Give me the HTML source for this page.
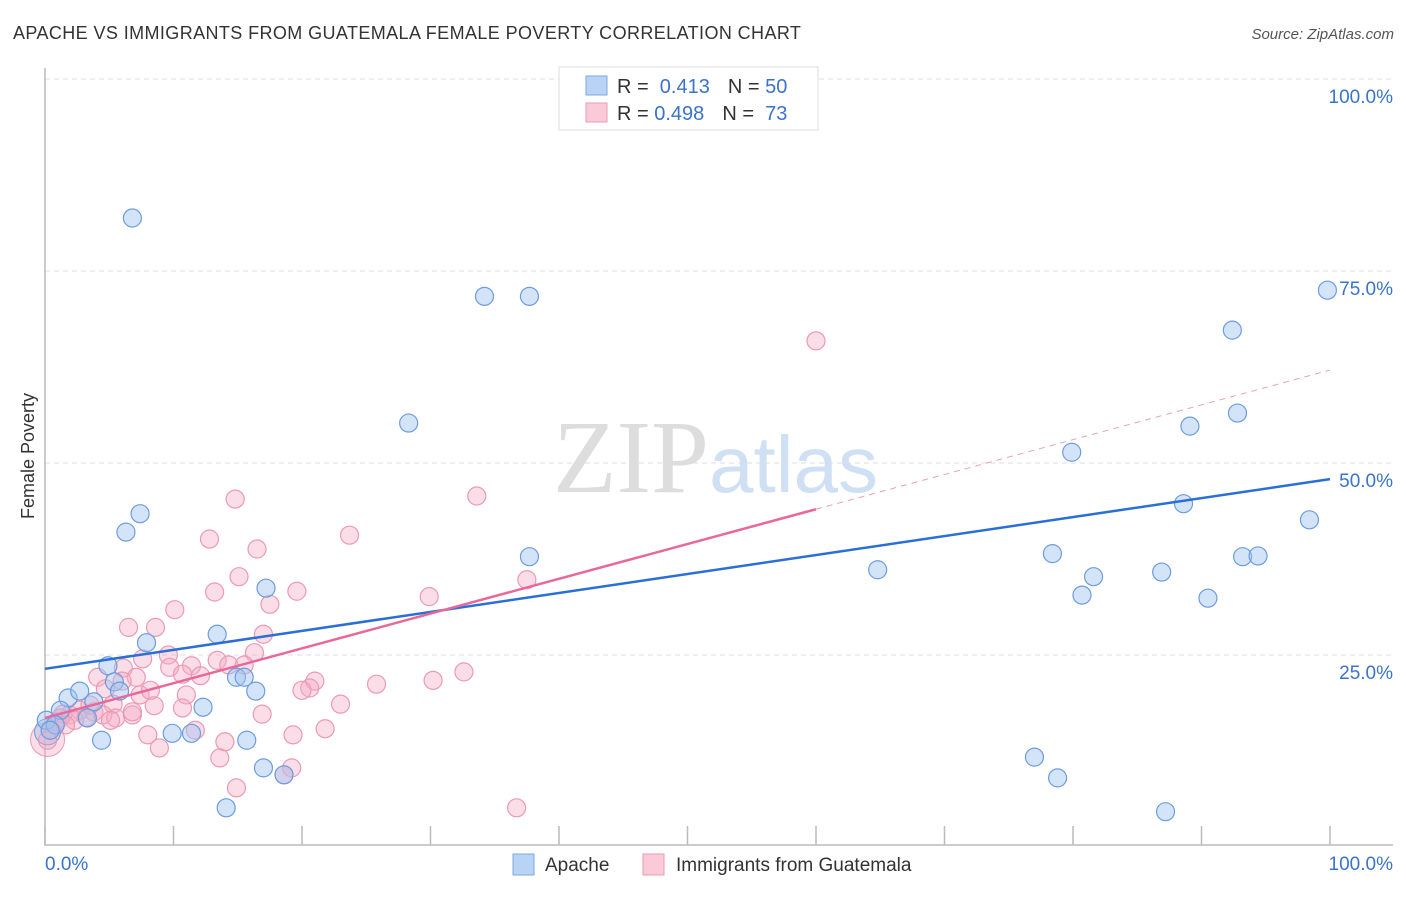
<!DOCTYPE html>
<html><head><meta charset="utf-8"><style>
body{margin:0;background:#fff;font-family:"Liberation Sans",sans-serif}
</style></head><body>
<svg id="chart" width="1406" height="892" xmlns="http://www.w3.org/2000/svg" font-family="Liberation Sans, sans-serif">
<text x="13" y="39" font-size="18" letter-spacing="0.4" fill="#333">APACHE VS IMMIGRANTS FROM GUATEMALA FEMALE POVERTY CORRELATION CHART</text>
<text x="1394" y="39" font-size="15" font-style="italic" fill="#555" text-anchor="end">Source: ZipAtlas.com</text>
<text x="553" y="492" font-size="104" font-family="Liberation Serif, serif" fill="#ddd">ZIP<tspan fill="#cfe0f5" font-family="Liberation Sans, sans-serif" font-size="80">atlas</tspan></text>
<g id="grid"></g><g id="axes"></g><g id="pts"></g><g id="lines"></g>
<text transform="translate(34,456) rotate(-90)" font-size="18" fill="#333" text-anchor="middle">Female Poverty</text>
<g>
<rect x="559" y="67" width="259" height="63" fill="#fff" stroke="#ddd"/>
<rect x="586" y="76" width="21" height="19" fill="#b9d3f5" stroke="#7aa7e3"/>
<rect x="586" y="103" width="21" height="19" fill="#fbcad8" stroke="#eb9ab4"/>
<text x="617" y="93" font-size="20" fill="#333">R = <tspan fill="#3a73c9">&#160;0.413</tspan><tspan dx="18" fill="#333">N = </tspan><tspan fill="#3a73c9">50</tspan></text>
<text x="617" y="120" font-size="20" fill="#333">R = <tspan fill="#3a73c9">0.498</tspan><tspan dx="18" fill="#333">N = </tspan><tspan fill="#3a73c9">&#160;73</tspan></text>
</g>
<g>
<rect x="513" y="854" width="21" height="21" fill="#b9d3f5" stroke="#7aa7e3"/>
<text x="545" y="871" font-size="19" fill="#333">Apache</text>
<rect x="643" y="854" width="21" height="21" fill="#fbcad8" stroke="#eb9ab4"/>
<text x="676" y="871" font-size="19" fill="#333">Immigrants from Guatemala</text>
</g>
</svg>
<script>
const yTicks=[25,50,75,100];
const yTickLabels=["25.0%","50.0%","75.0%","100.0%"];
const xTicks=[0,10,20,30,40,50,60,70,80,90,100];
const blueX=[6.8,34.2,37.7,28.3,99.8,92.4,92.8,89.1,79.9,88.6,98.4,7.4,6.3,37.7,78.4,93.2,94.4,64.8,86.9,81.6,80.7,90.5,17.2,7.9,13.4,4.9,14.9,15.5,5.4,16.4,5.8,1.8,2.7,3.8,1.2,3.3,0.1,0.8,12.3,9.9,11.4,4.4,15.7,17.0,18.6,14.1,77.0,78.8,87.2,0.4];
const blueY=[81.9,71.7,71.7,55.2,72.5,67.3,56.5,54.8,51.4,44.7,42.6,43.4,41.0,37.8,38.2,37.8,37.9,36.1,35.8,35.2,32.8,32.4,33.7,26.6,27.7,23.6,22.1,22.1,21.5,20.3,20.3,19.4,20.3,18.9,17.8,16.8,16.5,15.9,18.2,14.8,14.8,13.9,13.9,10.3,9.4,5.1,11.7,9.0,4.6,15.2];
const pinkX=[60.0,33.6,14.8,23.7,12.8,16.5,37.5,15.1,13.2,19.6,29.9,17.5,10.1,6.5,8.6,17.0,9.6,7.6,16.3,13.4,14.3,11.4,15.5,9.7,6.1,4.1,7.1,10.7,12.1,6.0,32.6,30.2,25.8,21.0,20.6,20.0,4.7,7.4,11.0,5.3,8.5,23.0,10.7,2.7,3.8,1.9,4.5,5.5,6.8,3.2,16.9,1.4,2.3,11.7,21.8,8.0,19.3,14.0,8.9,13.6,19.2,14.9,36.7,0.4,0.2,0.9,6.8,18.6,1.2,3.5,5.1,1.6,8.2];
const pinkY=[65.9,45.7,45.3,40.6,40.1,38.8,34.8,35.2,33.2,33.3,32.6,31.6,30.9,28.6,28.6,27.7,25.0,24.5,25.3,24.3,23.7,23.6,23.7,23.4,23.3,22.1,22.1,22.5,22.3,21.6,22.8,21.7,21.2,21.6,20.7,20.4,20.6,19.8,19.8,18.6,18.4,18.6,18.1,17.8,17.6,17.2,17.2,16.8,17.2,16.9,17.3,17.3,16.5,15.2,15.4,14.6,14.6,13.7,12.9,11.6,10.3,7.7,5.1,15.2,13.9,16.3,17.6,9.4,16.8,18.5,16.5,15.9,20.4];
const blueTrend=[23.2,47.9];
const pinkTrend=[16.8,62.1];
const pinkSolidEnd=60;
const NS='http://www.w3.org/2000/svg';
const X=v=>45+v*12.85, Y=v=>847-v*7.68;
function mk(tag,attrs,parent){const e=document.createElementNS(NS,tag);for(const k in attrs)e.setAttribute(k,attrs[k]);document.getElementById(parent).appendChild(e);return e;}
yTicks.forEach((t,i)=>{
 const g=mk('line',{x1:45,x2:1393,y1:Y(t),y2:Y(t),stroke:'#ddd','stroke-dasharray':'5,4'},'grid');
 
 
 const l=mk('text',{x:1393,y:Y(t)+24,'font-size':19,fill:'#3a73c9','text-anchor':'end'},'grid');
 l.textContent=yTickLabels[i];
 
 
});
const ax=mk('path',{d:'M45 68 V845 H1393',fill:'none',stroke:'#bbb','stroke-width':1.5},'axes');


xTicks.forEach(t=>{
 const k=mk('line',{x1:X(t),x2:X(t),y1:826,y2:845,stroke:'#bbb','stroke-width':1.5},'axes');
 
 
});
const xl0=mk('text',{x:45,y:870,'font-size':19,fill:'#3a73c9'},'axes');xl0.textContent='0.0%';


const xl1=mk('text',{x:1393,y:870,'font-size':19,fill:'#3a73c9','text-anchor':'end'},'axes');xl1.textContent='100.0%';


const bigP=mk('circle',{cx:X(0.2),cy:Y(14),r:17,fill:'rgba(245,170,195,0.4)',stroke:'#eb9ab4'},'pts');


const bigB=mk('circle',{cx:X(0.2),cy:Y(15),r:13,fill:'rgba(160,196,240,0.45)',stroke:'#6c9ce0'},'pts');


pinkX.forEach((x,i)=>{
 const c=mk('circle',{cx:X(x),cy:Y(pinkY[i]),r:9,fill:'rgba(245,170,195,0.4)',stroke:'#eb9ab4','stroke-width':1.2},'pts');
 
 
});
blueX.forEach((x,i)=>{
 const c=mk('circle',{cx:X(x),cy:Y(blueY[i]),r:9,fill:'rgba(160,196,240,0.45)',stroke:'#6c9ce0','stroke-width':1.2},'pts');
 
 
});
const bl=mk('line',{x1:X(0),y1:Y(blueTrend[0]),x2:X(100),y2:Y(blueTrend[1]),stroke:'#2a6fd6','stroke-width':2.5},'lines');


const pm=pinkTrend[0]+(pinkTrend[1]-pinkTrend[0])*pinkSolidEnd/100;
const pl=mk('line',{x1:X(0),y1:Y(pinkTrend[0]),x2:X(pinkSolidEnd),y2:Y(pm),stroke:'#e8689a','stroke-width':2.5},'lines');


const pd=mk('line',{x1:X(pinkSolidEnd),y1:Y(pm),x2:X(100),y2:Y(pinkTrend[1]),stroke:'#e8a0b8','stroke-width':1,'stroke-dasharray':'6,5'},'lines');


</script>
</body></html>
